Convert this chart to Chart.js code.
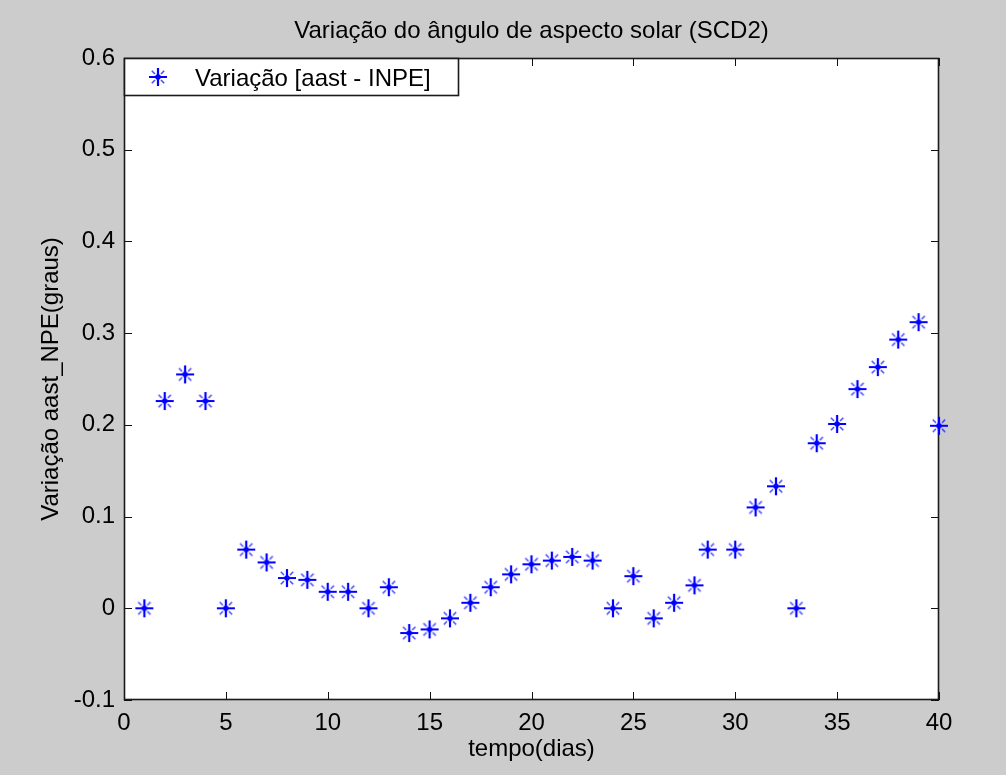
<!DOCTYPE html>
<html>
<head>
<meta charset="utf-8">
<script src="https://cdn.jsdelivr.net/npm/chart.js@4.4.1/dist/chart.umd.min.js"></script>
<style>
  html, body { margin: 0; padding: 0; background: #cccccc; }
  canvas { display: block; }
</style>
</head>
<body>
<canvas id="myChart" width="1006" height="775"></canvas>
<script>
// daily samples of the solar aspect angle difference (degrees)
const days = [1, 2, 3, 4, 5, 6, 7, 8, 9, 10,
              11, 12, 13, 14, 15, 16, 17, 18, 19, 20,
              21, 22, 23, 24, 25, 26, 27, 28, 28.65, 30,
              31, 32, 33, 34, 35, 36, 37, 38, 39, 40];
const variation = [0, 0.226, 0.255, 0.226, 0, 0.064, 0.050, 0.033, 0.031, 0.018,
                   0.018, 0, 0.023, -0.027, -0.023, -0.011, 0.006, 0.023, 0.037, 0.048,
                   0.052, 0.056, 0.052, 0, 0.035, -0.011, 0.006, 0.025, 0.064, 0.064,
                   0.110, 0.133, 0, 0.180, 0.201, 0.239, 0.263, 0.293, 0.312, 0.199];

const seriesLabel = 'Variação [aast - INPE]';
const chartTitle = 'Variação do ângulo de aspecto solar (SCD2)';
const xTitle = 'tempo(dias)';
const yTitle = 'Variação aast_NPE(graus)';

const fontFamily = "'Liberation Sans', Arial, sans-serif";
const textFont = { family: fontFamily, size: 24 };

let chartArea = document.getElementById('myChart');

// '*' marker: plus with short diagonals and a heavy centre
function makeStar() {
    const c = document.createElement('canvas');
    c.width = 22;
    c.height = 22;
    const g = c.getContext('2d');
    g.strokeStyle = '#0000ff';
    g.fillStyle = '#0000ff';
    g.lineWidth = 2.2;
    g.beginPath();
    g.moveTo(2, 11); g.lineTo(20, 11);
    g.moveTo(11, 2); g.lineTo(11, 20);
    g.stroke();
    g.globalAlpha = 0.7;
    g.lineWidth = 1.6;
    g.beginPath();
    g.moveTo(11 - 6.2, 11 - 6.2); g.lineTo(11 - 3, 11 - 3);
    g.moveTo(11 + 6.2, 11 - 6.2); g.lineTo(11 + 3, 11 - 3);
    g.moveTo(11 - 6.2, 11 + 6.2); g.lineTo(11 - 3, 11 + 3);
    g.moveTo(11 + 6.2, 11 + 6.2); g.lineTo(11 + 3, 11 + 3);
    g.stroke();
    g.globalAlpha = 1;
    g.beginPath();
    g.arc(11, 11, 2.8, 0, Math.PI * 2);
    g.fill();
    return c;
}
const star = makeStar();

// grey figure, white axes, boxed frame with inward ticks, legend and title
const frame = {
    id: 'frame',
    beforeDraw(chart) {
        const { ctx, chartArea: a } = chart;
        ctx.save();
        ctx.fillStyle = '#cccccc';
        ctx.fillRect(0, 0, chart.width, chart.height);
        ctx.fillStyle = '#ffffff';
        ctx.fillRect(a.left, a.top, a.right - a.left, a.bottom - a.top);
        ctx.restore();
    },
    beforeDatasetsDraw(chart) {
        const { ctx, chartArea: a, scales } = chart;
        const len = 8;
        ctx.save();
        ctx.strokeStyle = '#111111';
        ctx.lineWidth = 1;
        ctx.beginPath();
        scales.x.ticks.forEach((t) => {
            const px = Math.round(scales.x.getPixelForValue(t.value)) + 0.5;
            ctx.moveTo(px, a.bottom); ctx.lineTo(px, a.bottom - len);
            ctx.moveTo(px, a.top); ctx.lineTo(px, a.top + len);
        });
        scales.y.ticks.forEach((t) => {
            const py = Math.round(scales.y.getPixelForValue(t.value)) + 0.5;
            ctx.moveTo(a.left, py); ctx.lineTo(a.left + len, py);
            ctx.moveTo(a.right, py); ctx.lineTo(a.right - len, py);
        });
        ctx.stroke();
        ctx.lineWidth = 1.6;
        ctx.strokeStyle = '#1a1a1a';
        ctx.strokeRect(a.left + 0.5, a.top + 0.5, a.right - a.left - 1, a.bottom - a.top - 1);
        ctx.restore();
    },
    afterDraw(chart) {
        const { ctx, chartArea: a } = chart;
        ctx.save();
        // legend box in the upper-left corner of the axes
        ctx.fillStyle = '#ffffff';
        ctx.fillRect(a.left, a.top, 334, 37);
        ctx.strokeStyle = '#1a1a1a';
        ctx.lineWidth = 1.6;
        ctx.strokeRect(a.left + 0.5, a.top + 0.5, 334, 37);
        ctx.drawImage(star, 158 - 11, a.top + 19 - 11);
        ctx.fillStyle = '#000000';
        ctx.font = '24px ' + fontFamily;
        ctx.textAlign = 'left';
        ctx.textBaseline = 'alphabetic';
        ctx.fillText(seriesLabel, 195, a.top + 28);
        // title above the axes
        ctx.textAlign = 'center';
        ctx.fillText(chartTitle, (a.left + a.right) / 2, 38);
        ctx.restore();
    }
};

const data = {
    datasets: [{
        label: seriesLabel,
        data: days.map((d, i) => ({ x: d, y: variation[i] })),
        pointStyle: star,
        pointRadius: 10,
        borderColor: '#0000ff',
        backgroundColor: '#0000ff',
        showLine: false,
        clip: false
    }]
};

const config = {
    type: 'scatter',
    data: data,
    options: {
        responsive: false,
        animation: false,
        devicePixelRatio: 1,
        layout: { padding: { top: 58, right: 67, left: 0, bottom: 0 } },
        plugins: {
            legend: { display: false },
            tooltip: { enabled: false }
        },
        scales: {
            x: {
                type: 'linear',
                min: 0,
                max: 40,
                ticks: { stepSize: 5, color: '#000000', font: textFont, padding: 9 },
                grid: { display: false, drawTicks: false },
                border: { display: false },
                title: { display: true, text: xTitle, color: '#000000', font: textFont, padding: { top: 0, bottom: 11 } },
                afterFit(scale) { scale.height = 75; }
            },
            y: {
                type: 'linear',
                min: -0.1,
                max: 0.6,
                ticks: {
                    stepSize: 0.1,
                    color: '#000000',
                    font: textFont,
                    padding: 9,
                    callback: (v) => String(Number(v.toFixed(1)))
                },
                grid: { display: false, drawTicks: false },
                border: { display: false },
                title: { display: true, text: yTitle, color: '#000000', font: textFont, padding: { top: 37, bottom: 0 } },
                afterFit(scale) { scale.width = 124; }
            }
        }
    },
    plugins: [frame]
};

let myChart = new Chart(chartArea, config);
</script>
</body>
</html>
